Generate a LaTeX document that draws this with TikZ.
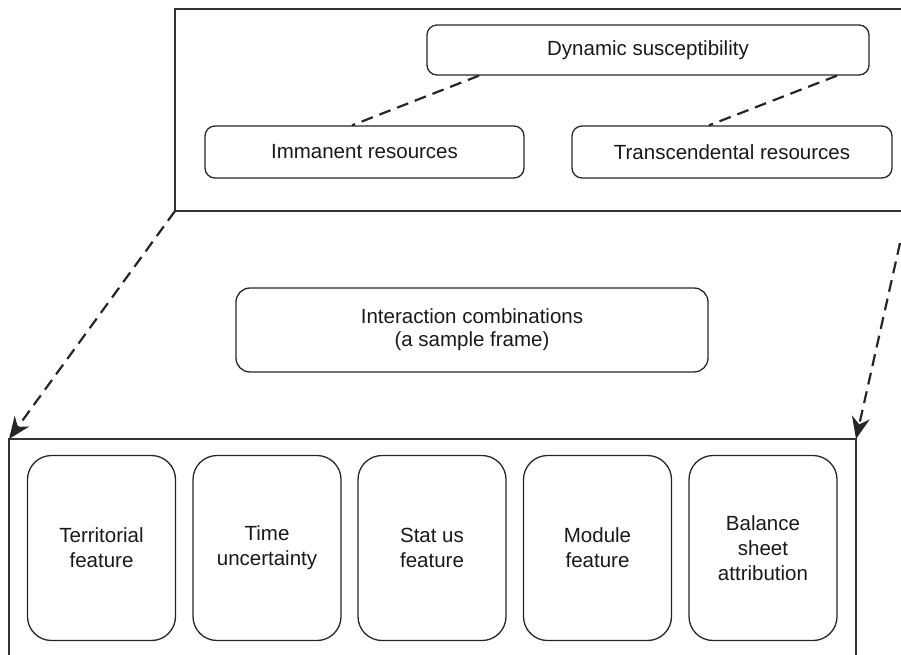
\documentclass[tikz,border=0pt]{standalone}
\usepackage{fontspec}
\setmainfont{Liberation Sans}
\usetikzlibrary{arrows.meta}
\begin{document}
\begin{tikzpicture}[x=1pt,y=-1pt,
  frame/.style={draw=black!80,line width=1.6pt},
  box/.style={draw=black!85,line width=1.3pt,rounded corners=10pt,inner sep=0pt,
    text=black!90,font=\fontsize{20.5}{25}\selectfont,align=center},
  tallbox/.style={box,rounded corners=24pt,minimum width=148pt,minimum height=185pt},
  link/.style={draw=black!85,line width=2.2pt,dash pattern=on 12pt off 7pt},
  arr/.style={link,-{Stealth[length=22pt,width=18pt,inset=7pt]}}]
\useasboundingbox (0,0) rectangle (901,654);
% top frame
\coordinate (tfTR) at (905,9);
\coordinate (tfTL) at (175,9);
\coordinate (tfBL) at (175,211);
\coordinate (tfBR) at (905,211);
\draw[frame] (tfTR) -- (tfTL) -- (tfBL) -- (tfBR);
% bottom frame
\coordinate (bfBL) at (9,660);
\coordinate (bfTL) at (9,439);
\coordinate (bfTR) at (856,439);
\coordinate (bfBR) at (856,660);
\draw[frame] (bfBL) -- (bfTL) -- (bfTR) -- (bfBR);
% top boxes
\node[box,minimum width=442pt,minimum height=50pt] (dyn) at (648,50) {Dynamic susceptibility};
\node[box,minimum width=319pt,minimum height=52pt] (imm) at (364.5,152) {Immanent resources};
\node[box,minimum width=320pt,minimum height=52pt] (tra) at (732,152) {Transcendental resources};
\draw[link] ([xshift=-169pt]dyn.south) -- ([xshift=-12.5pt]imm.north);
\draw[link] ([xshift=189pt]dyn.south) -- ([xshift=-23pt]tra.north);
% middle
\node[box,rounded corners=14pt,minimum width=472pt,minimum height=84pt,
  font=\fontsize{20.5}{23}\selectfont] (int) at (472,330) {Interaction combinations\\(a sample frame)};
% arrows
\coordinate (ra) at (900,243);
\draw[arr] (tfBL) -- (bfTL);
\draw[arr] (ra) -- (bfTR);
% bottom boxes
\node[tallbox] (b1) at (101.5,548) {Territorial\\feature};
\node[tallbox] (b2) at (267,548) {Time\\uncertainty};
\node[tallbox] (b3) at (432,548) {Stat us\\feature};
\node[tallbox] (b4) at (597.5,548) {Module\\feature};
\node[tallbox] (b5) at (763,548) {Balance\\sheet\\attribution};
\end{tikzpicture}
\end{document}
